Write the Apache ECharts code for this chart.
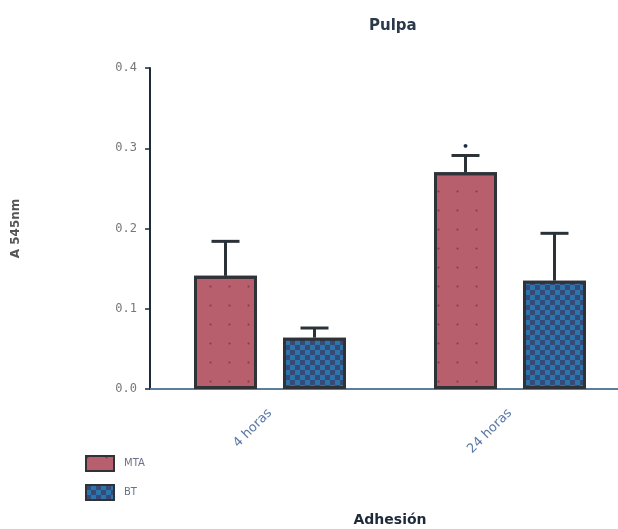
<!DOCTYPE html>
<html>
<head>
<meta charset="utf-8">
<script src="https://cdn.jsdelivr.net/npm/echarts@6/dist/echarts.min.js"></script>
<style>html,body{margin:0;padding:0;background:#fff;}#c{width:618px;height:529px;}</style>
</head>
<body>
<div id="c"></div>
<script>
var categories = ['4 horas', '24 horas'];
var seriesNames = ['MTA', 'BT'];
var mtaMean = [0.141, 0.270];
var mtaErr = [0.043, 0.021];
var btMean = [0.064, 0.135];
var btErr = [0.012, 0.059];
var yTicks = [0.0, 0.1, 0.2, 0.3, 0.4];
var mtaMark = ['', '•'];

var BAR_W = 63, GAP = 26;

function errSeries(name, means, errs, sign, marks) {
  var data = means.map(function (m, i) { return [i, m, m + errs[i], marks ? marks[i] : '']; });
  return {
    type: 'custom',
    name: name + ' err',
    z: 5,
    silent: true,
    data: data,
    renderItem: function (params, api) {
      var base = api.coord([api.value(0), api.value(1)]);
      var top = api.coord([api.value(0), api.value(2)]);
      var x = base[0] + sign * (BAR_W + GAP) / 2;
      var hw = 14;
      var children = [
        { type: 'line', shape: { x1: x, y1: base[1], x2: x, y2: top[1] }, style: { stroke: '#2a3238', lineWidth: 3 } },
        { type: 'line', shape: { x1: x - hw, y1: top[1], x2: x + hw, y2: top[1] }, style: { stroke: '#2a3238', lineWidth: 3 } }
      ];
      var mk = data[params.dataIndex][3];
      if (mk) {
        children.push({ type: 'text', style: { text: mk, x: x, y: top[1] - 8, align: 'center', verticalAlign: 'middle', fill: '#1a2a40', font: 'bold 11px DejaVu Sans' } });
      }
      return { type: 'group', children: children };
    }
  };
}

var chart = echarts.init(document.getElementById('c'), null, { renderer: 'canvas' });
chart.setOption({
  animation: false,
  backgroundColor: '#fff',
  title: {
    text: 'Pulpa', left: 364, top: 14,
    textStyle: { fontSize: 15, fontWeight: 'bold', color: '#2a3a4a', fontFamily: 'DejaVu Sans' }
  },
  legend: {
    orient: 'vertical', left: 80, top: 450, itemWidth: 28, itemHeight: 15, itemGap: 12,
    icon: 'rect',
    data: seriesNames,
    textStyle: { fontSize: 10, color: '#6a7388', fontFamily: 'DejaVu Sans', padding: [0, 0, 0, 5] }
  },
  grid: { left: 150, right: -12, top: 68, bottom: 140, containLabel: false, outerBoundsMode: 'none' },
  xAxis: {
    type: 'category', data: categories,
    name: 'Adhesión', nameLocation: 'middle', nameGap: 124,
    nameTextStyle: { fontSize: 14, fontWeight: 'bold', color: '#1e2a3a', fontFamily: 'DejaVu Sans' },
    axisLine: { lineStyle: { color: '#5a7e9e', width: 2 } },
    axisTick: { alignWithLabel: true, length: 5, lineStyle: { color: '#2a3238', width: 2 } },
    axisLabel: { rotate: 45, margin: 22, fontSize: 13, color: '#5a7aa6', fontFamily: 'DejaVu Sans' }
  },
  yAxis: {
    type: 'value', min: yTicks[0], max: yTicks[yTicks.length - 1], interval: 0.1,
    name: 'A 545nm', nameLocation: 'middle', nameGap: 128,
    nameTextStyle: { fontSize: 12, fontWeight: 'bold', color: '#555', fontFamily: 'DejaVu Sans' },
    splitLine: { show: false },
    axisLine: { show: true, lineStyle: { color: '#1c2a3a', width: 2 } },
    axisTick: { show: true, length: 5, lineStyle: { color: '#1c2a3a', width: 1.5 } },
    axisLabel: { margin: 13, fontSize: 12, color: '#777', fontFamily: 'DejaVu Sans Mono',
      formatter: function (v) { return v.toFixed(1); } }
  },
  series: [
    {
      type: 'bar', name: seriesNames[0], data: mtaMean, barWidth: BAR_W, barGap: (GAP / BAR_W * 100) + '%',
      itemStyle: {
        color: '#b85f6e', borderColor: '#2f3338', borderWidth: 3,
        decal: { symbol: 'circle', symbolSize: 0.7, dashArrayX: [3, 16], dashArrayY: [3, 16], color: 'rgba(110,30,50,0.6)' }
      }
    },
    {
      type: 'bar', name: seriesNames[1], data: btMean, barWidth: BAR_W,
      itemStyle: {
        color: '#364a78', borderColor: '#2f3338', borderWidth: 3,
        decal: { symbol: 'rect', symbolSize: 1, dashArrayX: [[5, 5], [0, 5, 5, 0]], dashArrayY: [5, 0], color: 'rgba(40,140,200,0.65)' }
      }
    },
    errSeries('MTA', mtaMean, mtaErr, -1, mtaMark),
    errSeries('BT', btMean, btErr, 1, null)
  ]
});
</script>
</body>
</html>
